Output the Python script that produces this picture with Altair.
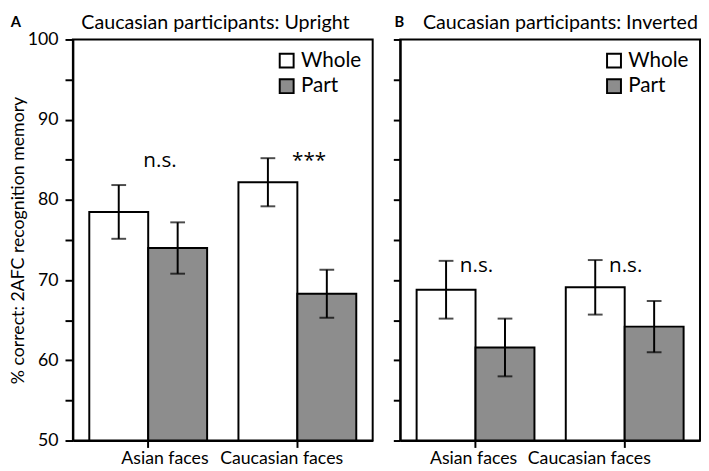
import altair as alt
import pandas as pd

categories = ["Asian faces", "Caucasian faces"]
conditions = ["Whole", "Part"]
# order: Asian-Whole, Asian-Part, Caucasian-Whole, Caucasian-Part
upright_means = [78.5, 74.0, 82.2, 68.3]
upright_errors = [3.35, 3.2, 3.0, 3.0]
inverted_means = [68.8, 61.6, 69.1, 64.2]
inverted_errors = [3.6, 3.6, 3.4, 3.2]
upright_marks = ["n.s.", "***"]
upright_mark_y = [84.1, 84.1]
inverted_marks = ["n.s.", "n.s."]
inverted_mark_y = [71.0, 71.0]

FONT = "Lato"
GRAY = "#8d8d8d"
W, H = 305, 408
TICKS = [50, 55, 60, 65, 70, 75, 80, 85, 90, 95, 100]


def make_frame(means, errs):
    rows = []
    i = 0
    for c in categories:
        for cond in conditions:
            rows.append({"face": c, "cond": cond, "mean": means[i],
                         "lo": means[i] - errs[i], "hi": means[i] + errs[i]})
            i += 1
    return pd.DataFrame(rows)


def panel(means, errs, marks, mark_y, letter, letter_x, title, title_x, show_labels,
          off_first, off_second, text_dx):
    df = make_frame(means, errs)
    ann = pd.DataFrame({"face": categories, "label": marks, "y": mark_y})

    x = alt.X("face:N", sort=categories,
              scale=alt.Scale(paddingInner=0.21, paddingOuter=0.11),
              axis=alt.Axis(title=None, labelAngle=0, labelFontSize=18, labelFont=FONT,
                            tickSize=7, labelPadding=2,
                            labelOffset={"condition": {"test": f"datum.value === '{categories[0]}'",
                                                       "value": off_first},
                                         "value": off_second}))
    xoff = alt.XOffset("cond:N", sort=conditions,
                       scale=alt.Scale(paddingInner=0, paddingOuter=0))
    y_scale = alt.Scale(domain=[50, 100], nice=False, zero=False)
    if show_labels:
        yaxis = alt.Axis(title="% correct: 2AFC recognition memory", values=TICKS,
                         labelExpr="datum.value % 10 === 0 ? datum.label : ''",
                         labelFontSize=18, labelFont=FONT, titleFont=FONT,
                         titleFontSize=18, titleFontWeight="normal", tickSize=8,
                         labelPadding=7, titlePadding=0, grid=False)
    else:
        yaxis = alt.Axis(title=None, values=TICKS, labels=False, tickSize=7, grid=False)

    def yenc(field):
        return alt.Y(field, scale=y_scale, axis=yaxis)

    base = alt.Chart(df)
    bars = base.mark_bar(stroke="black", strokeWidth=2).encode(
        x=x, xOffset=xoff, y=yenc("mean:Q"), y2=alt.datum(50),
        color=alt.Color("cond:N",
                        scale=alt.Scale(domain=conditions, range=["white", GRAY]),
                        legend=alt.Legend(title=None, orient="top-right", offset=11,
                                          symbolType="square", symbolSize=200,
                                          symbolStrokeColor="black", symbolStrokeWidth=2,
                                          labelFontSize=21, labelFont=FONT,
                                          labelColor="black", rowPadding=3,
                                          labelOffset=4)))
    rules = base.mark_rule(color="black", strokeWidth=2).encode(
        x=x, xOffset=xoff, y=yenc("lo:Q"), y2="hi:Q")
    cap_hi = base.mark_tick(color="black", thickness=2, size=15).encode(
        x=x, xOffset=xoff, y=yenc("hi:Q"))
    cap_lo = base.mark_tick(color="black", thickness=2, size=15).encode(
        x=x, xOffset=xoff, y=yenc("lo:Q"))
    text = alt.Chart(ann).mark_text(font="Open Sans", fontSize=21, baseline="alphabetic",
                                    color="black", dx=text_dx).encode(
        x=x, y=yenc("y:Q"), text="label:N")
    head_df = pd.DataFrame({"t": [letter], "title": [title]})
    letter_mark = alt.Chart(head_df).mark_text(
        font=FONT, fontSize=15, fontWeight="bold", align="center",
        baseline="top", color="black").encode(
        x=alt.value(letter_x), y=alt.value(-25), text="t:N")
    title_mark = alt.Chart(head_df).mark_text(
        font=FONT, fontSize=20, align="center",
        baseline="top", color="black").encode(
        x=alt.value(title_x), y=alt.value(-27), text="title:N")

    return alt.layer(bars, rules, cap_hi, cap_lo, text, letter_mark, title_mark).properties(
        width=W, height=H)


a = panel(upright_means, upright_errors, upright_marks, upright_mark_y,
          "A", -58, "Caucasian participants: Upright", 145, True, 17, -16, 12)
b = panel(inverted_means, inverted_errors, inverted_marks, inverted_mark_y,
          "B", -1, "Caucasian participants: Inverted", 163, False, -2, -36, 1)

chart = alt.hconcat(a, b, spacing=18).resolve_scale(color="independent").properties(
    padding=0
).configure_view(
    stroke="black", strokeWidth=2
).configure_axis(
    domainColor="black", domainWidth=2, tickColor="black", tickWidth=2,
    labelColor="black", titleColor="black"
)

chart.save("out.html", embed_options={"renderer": "svg", "actions": False})
